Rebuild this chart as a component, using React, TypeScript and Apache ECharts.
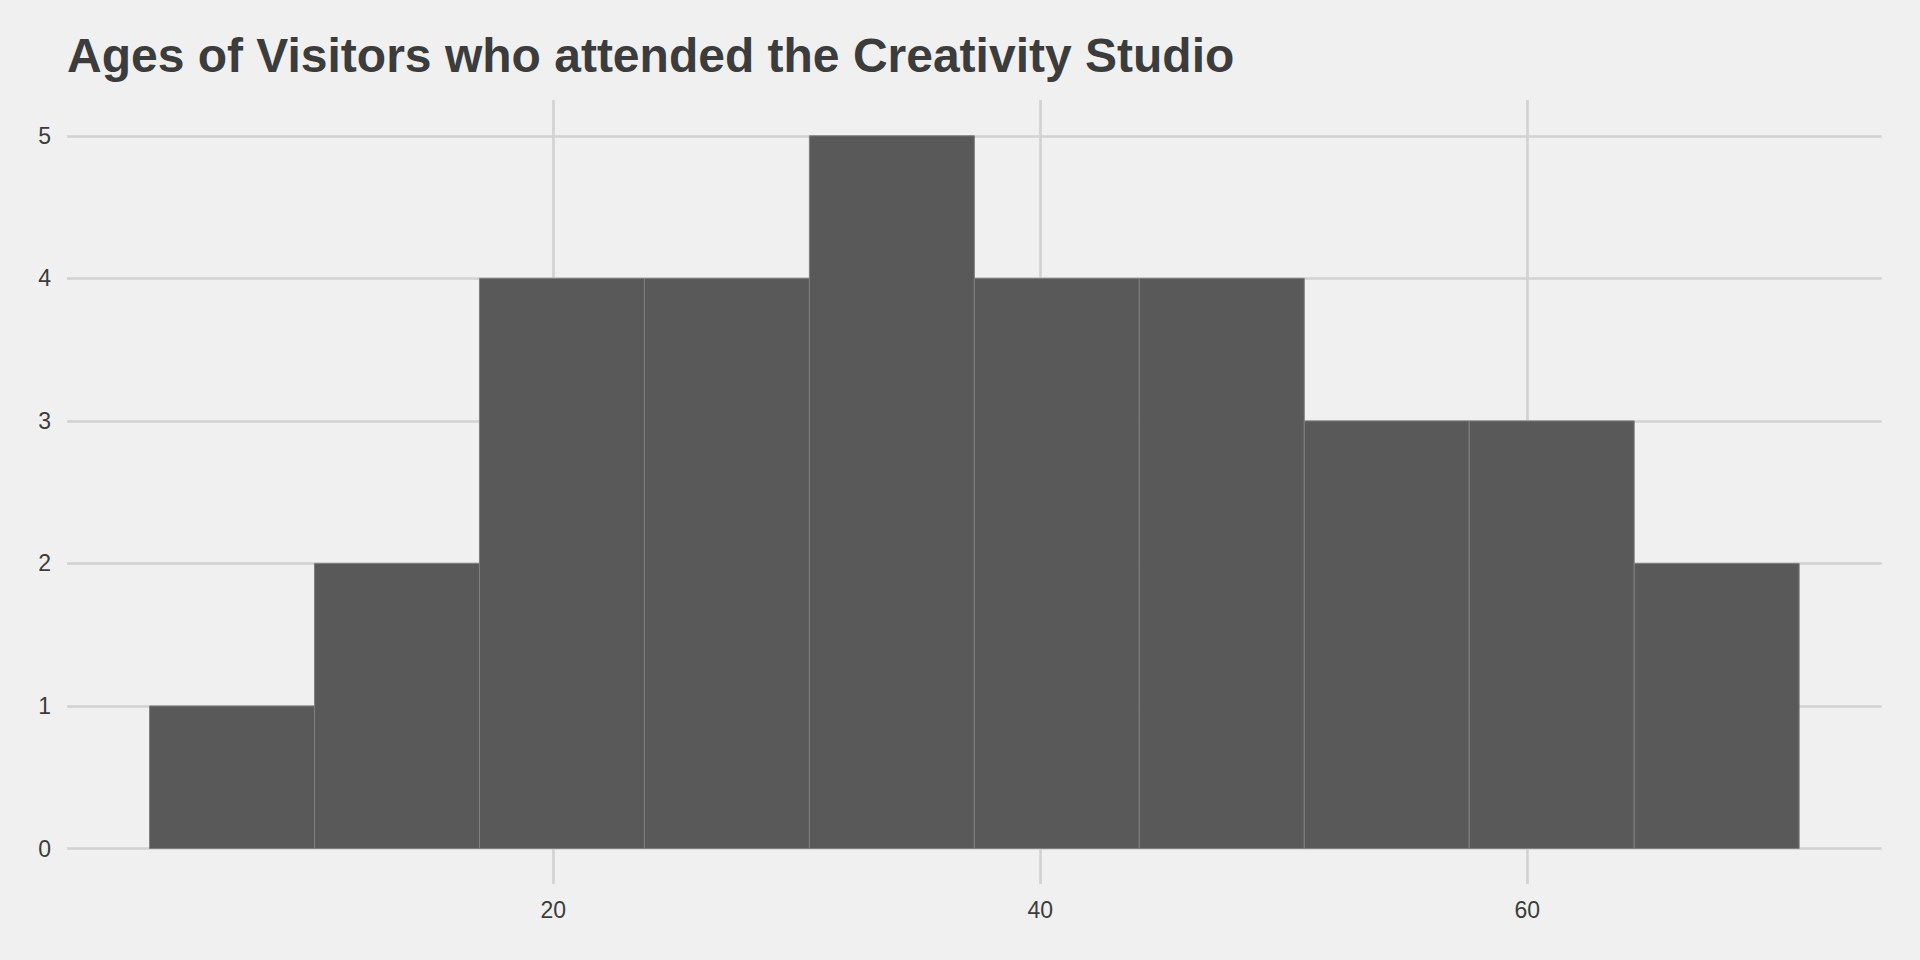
import React, { useEffect, useRef } from "react";
import * as echarts from "echarts";

const binStart = [3.42, 10.195, 16.97, 23.745, 30.52, 37.295, 44.07, 50.845, 57.62, 64.395];
const binEnd = [10.195, 16.97, 23.745, 30.52, 37.295, 44.07, 50.845, 57.62, 64.395, 71.17];
const counts = [1, 2, 4, 4, 5, 4, 4, 3, 3, 2];
const xTicks = [20, 40, 60];
const yTicks = [0, 1, 2, 3, 4, 5];
const xRange = [0.03, 74.56];
const titleText = "Ages of Visitors who attended the Creativity Studio";

const FONT = "'Liberation Sans', Arial, Helvetica, sans-serif";
const GRID_COLOR = "#D2D2D2";
const TEXT_COLOR = "#3C3C3C";

export default function App() {
  const ref = useRef<HTMLDivElement>(null);

  useEffect(() => {
    if (!ref.current) return;
    const chart = echarts.init(ref.current, undefined, { renderer: "svg" });
    const data = counts.map((c, i) => [binStart[i], binEnd[i], c]);
    chart.setOption({
      animation: false,
      backgroundColor: "#F0F0F0",
      textStyle: { fontFamily: FONT },
      title: {
        text: titleText,
        left: 62,
        top: 26,
        textStyle: { fontFamily: FONT, fontWeight: "bold", fontSize: 48, color: TEXT_COLOR },
      },
      grid: [
        { left: 67, right: 38.3, top: 100, bottom: 76 },
        { left: 67, right: 38.3, top: 135.8, bottom: 111.5 },
      ],
      xAxis: [
        {
          type: "value",
          gridIndex: 0,
          min: xRange[0],
          max: xRange[1],
          axisLine: { show: false },
          axisTick: { show: false, customValues: xTicks },
          axisLabel: {
            customValues: xTicks,
            fontSize: 23,
            color: TEXT_COLOR,
            margin: 14,
            fontFamily: FONT,
          },
          splitLine: { show: true, lineStyle: { color: GRID_COLOR, width: 2.7 } },
        },
        {
          type: "value",
          gridIndex: 1,
          min: xRange[0],
          max: xRange[1],
          show: false,
          splitLine: { show: false },
        },
      ],
      yAxis: [
        {
          type: "value",
          gridIndex: 0,
          show: false,
          splitLine: { show: false },
        },
        {
          type: "value",
          gridIndex: 1,
          min: yTicks[0],
          max: yTicks[yTicks.length - 1],
          interval: 1,
          axisLine: { show: false },
          axisTick: { show: false },
          axisLabel: { fontSize: 23, color: TEXT_COLOR, margin: 16, fontFamily: FONT },
          splitLine: { show: true, lineStyle: { color: GRID_COLOR, width: 2.7 } },
        },
      ],
      series: [
        {
          type: "custom",
          xAxisIndex: 1,
          yAxisIndex: 1,
          z: 5,
          encode: { x: [0, 1], y: 2 },
          data,
          renderItem: (params: any, api: any) => {
            const x0 = api.value(0);
            const x1 = api.value(1);
            const c = api.value(2);
            const p0 = api.coord([x0, 0]);
            const p1 = api.coord([x1, c]);
            return {
              type: "rect",
              shape: { x: p0[0], y: p1[1], width: p1[0] - p0[0], height: p0[1] - p1[1] },
              style: { fill: "#595959", stroke: "#7F7F7F", lineWidth: 1 },
            };
          },
        },
      ],
    });
    return () => chart.dispose();
  }, []);

  return (
    <div
      ref={ref}
      style={{ position: "fixed", left: 0, top: 0, width: 1920, height: 960 }}
    />
  );
}
